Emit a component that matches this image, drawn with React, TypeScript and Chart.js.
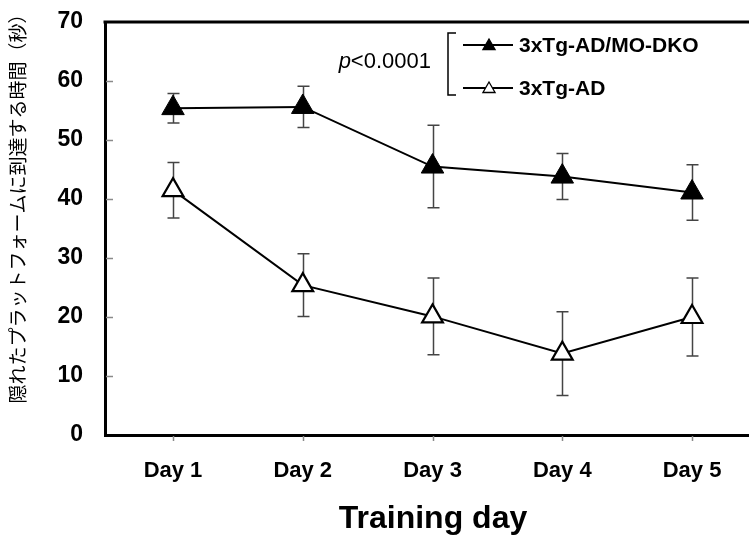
import React, { useEffect, useRef } from "react";
import { Chart, registerables } from "chart.js";

Chart.register(...registerables);

const days = ["Day 1", "Day 2", "Day 3", "Day 4", "Day 5"];
const dkoMean = [55.4, 55.6, 45.5, 43.8, 41.1];
const dkoErr = [2.5, 3.5, 7.0, 3.9, 4.7];
const adMean = [41.5, 25.4, 20.1, 13.8, 20.0];
const adErr = [4.7, 5.3, 6.5, 7.1, 6.6];
const yTicks = [0, 10, 20, 30, 40, 50, 60, 70];
const seriesNames = ["3xTg-AD/MO-DKO", "3xTg-AD"];
const pValueText = "<0.0001";
const yTitle = "隠れたプラットフォームに到達する時間（秒）";
const xTitle = "Training day";

const FONT = '"Liberation Sans", Arial, sans-serif';

function tri(ctx: CanvasRenderingContext2D, x: number, y: number, r: number) {
  ctx.beginPath();
  ctx.moveTo(x, y - r);
  ctx.lineTo(x + r * Math.sin((2 * Math.PI) / 3), y - r * Math.cos((2 * Math.PI) / 3));
  ctx.lineTo(x + r * Math.sin((4 * Math.PI) / 3), y - r * Math.cos((4 * Math.PI) / 3));
  ctx.closePath();
}

const decor = {
  id: "decor",
  beforeDatasetsDraw(chart: any) {
    const ctx = chart.ctx as CanvasRenderingContext2D;
    const xs = chart.scales.x;
    const ys = chart.scales.y;
    const area = chart.chartArea;
    ctx.save();
    // tick marks
    ctx.strokeStyle = "#8a8a8a";
    ctx.lineWidth = 1.5;
    yTicks.forEach((v) => {
      if (v === 0 || v === 70) return;
      const y = Math.round(ys.getPixelForValue(v)) + 0.5;
      ctx.beginPath();
      ctx.moveTo(area.left + 1, y);
      ctx.lineTo(area.left + 8, y);
      ctx.stroke();
    });
    days.forEach((_, i) => {
      const x = Math.round(xs.getPixelForValue(i + 1)) + 0.5;
      ctx.beginPath();
      ctx.moveTo(x, area.bottom + 1);
      ctx.lineTo(x, area.bottom + 6);
      ctx.stroke();
    });
    // error bars
    const sets = [
      { m: dkoMean, e: dkoErr },
      { m: adMean, e: adErr },
    ];
    ctx.strokeStyle = "#444";
    ctx.lineWidth = 1.5;
    sets.forEach((s) => {
      s.m.forEach((m, i) => {
        const x = Math.round(xs.getPixelForValue(i + 1)) + 0.5;
        const yt = ys.getPixelForValue(m + s.e[i]);
        const yb = ys.getPixelForValue(m - s.e[i]);
        ctx.beginPath();
        ctx.moveTo(x, yt);
        ctx.lineTo(x, yb);
        ctx.moveTo(x - 6, yt);
        ctx.lineTo(x + 6, yt);
        ctx.moveTo(x - 6, yb);
        ctx.lineTo(x + 6, yb);
        ctx.stroke();
      });
    });
    ctx.restore();
  },
  afterDraw(chart: any) {
    const ctx = chart.ctx as CanvasRenderingContext2D;
    const area = chart.chartArea;
    ctx.save();
    // top border
    ctx.strokeStyle = "#000";
    ctx.lineWidth = 3;
    ctx.beginPath();
    ctx.moveTo(area.left - 1.5, area.top);
    ctx.lineTo(chart.width, area.top);
    ctx.stroke();

    // p value
    ctx.fillStyle = "#000";
    ctx.textBaseline = "middle";
    ctx.font = `22px ${FONT}`;
    const restW = ctx.measureText(pValueText).width;
    ctx.textAlign = "right";
    ctx.fillText(pValueText, 431, 62);
    ctx.font = `italic 22px ${FONT}`;
    ctx.fillText("p", 431 - restW, 62);

    // bracket
    ctx.lineWidth = 1.5;
    ctx.beginPath();
    ctx.moveTo(456, 33);
    ctx.lineTo(448, 33);
    ctx.lineTo(448, 95);
    ctx.lineTo(456, 95);
    ctx.stroke();

    // legend entries
    const rows = [45, 88];
    rows.forEach((y, k) => {
      ctx.lineWidth = 2;
      ctx.strokeStyle = "#000";
      ctx.beginPath();
      ctx.moveTo(463, y);
      ctx.lineTo(513, y);
      ctx.stroke();
      tri(ctx, 489, y + 1, 7);
      ctx.fillStyle = k === 0 ? "#000" : "#fff";
      ctx.fill();
      ctx.lineWidth = 1.3;
      ctx.stroke();
      ctx.fillStyle = "#000";
      ctx.textAlign = "left";
      ctx.textBaseline = "middle";
      ctx.font = `bold 21px ${FONT}`;
      ctx.fillText(seriesNames[k], 519, y + 1);
    });

    // axis titles
    ctx.font = `bold 32px ${FONT}`;
    ctx.textAlign = "center";
    ctx.textBaseline = "middle";
    ctx.fillText(xTitle, 433, 519);

    ctx.save();
    ctx.translate(18, 204);
    ctx.rotate(-Math.PI / 2);
    ctx.font = `19px "Noto Sans CJK JP", sans-serif`;
    ctx.fillText(yTitle, 0, 0);
    ctx.restore();

    ctx.restore();
  },
};

export default function App() {
  const ref = useRef<HTMLCanvasElement | null>(null);
  useEffect(() => {
    document.body.style.margin = "0";
    const canvas = ref.current;
    if (!canvas) return;
    const chart = new Chart(canvas, {
      type: "line",
      data: {
        datasets: [
          {
            label: seriesNames[0],
            data: days.map((_, i) => ({ x: i + 1, y: dkoMean[i] })),
            borderColor: "#000",
            borderWidth: 2,
            pointStyle: "triangle",
            pointRadius: 13,
            pointBackgroundColor: "#000",
            pointBorderColor: "#000",
            pointBorderWidth: 1,
            tension: 0,
          },
          {
            label: seriesNames[1],
            data: days.map((_, i) => ({ x: i + 1, y: adMean[i] })),
            borderColor: "#000",
            borderWidth: 2,
            pointStyle: "triangle",
            pointRadius: 12,
            pointBackgroundColor: "#fff",
            pointBorderColor: "#000",
            pointBorderWidth: 2.2,
            tension: 0,
          },
        ],
      },
      options: {
        responsive: false,
        animation: false,
        layout: { autoPadding: false, padding: { left: 0, top: 22, right: 0, bottom: 0 } },
        plugins: {
          legend: { display: false },
          tooltip: { enabled: false },
        },
        scales: {
          x: {
            type: "linear",
            min: 0.476,
            max: 5.439,
            afterBuildTicks: (s: any) => {
              s.ticks = days.map((_, i) => ({ value: i + 1 }));
            },
            afterFit: (s: any) => {
              s.height = 104;
              s.paddingLeft = 0;
              s.paddingRight = 0;
            },
            grid: { display: false, drawTicks: false },
            border: { display: true, color: "#000", width: 3 },
            ticks: {
              color: "#000",
              padding: 23,
              maxRotation: 0,
              autoSkip: false,
              font: { family: FONT, size: 22, weight: "bold" },
              callback: (v: any) => days[Number(v) - 1] ?? "",
            },
          },
          y: {
            min: 0,
            max: 70,
            afterBuildTicks: (s: any) => {
              s.ticks = yTicks.map((v) => ({ value: v }));
            },
            afterFit: (s: any) => {
              s.width = 105;
              s.paddingTop = 0;
              s.paddingBottom = 0;
            },
            grid: { display: false, drawTicks: false },
            border: { display: true, color: "#000", width: 3 },
            ticks: {
              color: "#000",
              padding: 22,
              font: { family: FONT, size: 23, weight: "bold" },
            },
          },
        },
      },
      plugins: [decor],
    });
    return () => chart.destroy();
  }, []);
  return (
    <div style={{ width: 749, height: 539 }}>
      <canvas ref={ref} width={749} height={539} />
    </div>
  );
}
